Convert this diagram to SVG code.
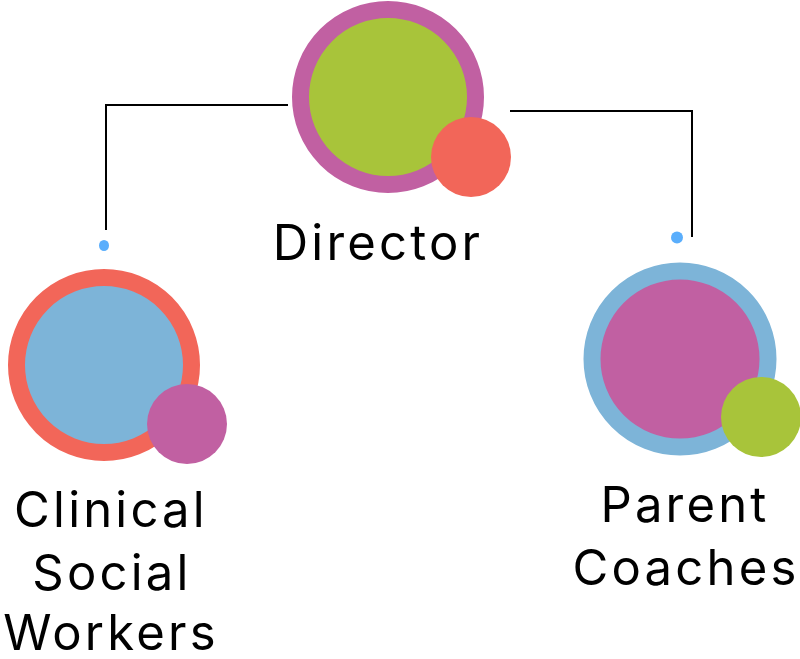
<svg xmlns="http://www.w3.org/2000/svg" width="800" height="659" viewBox="0 0 800 659">
<style>
.ring{stroke-width:17}
.lbl{font-family:Inter,"Liberation Sans",sans-serif;font-size:49px;fill:#000;text-anchor:middle;letter-spacing:3.2px}
.conn{fill:none;stroke:#000;stroke-width:2}
.dot{fill:#5aaefc}
</style>
<rect width="800" height="659" fill="#fff"/>
<g id="connectors">
<polyline class="conn" points="288,105 106,105 106,230"/>
<ellipse class="dot" cx="104" cy="245.5" rx="5" ry="5.5"/>
<polyline class="conn" points="510,111 692,111 692,237"/>
<circle class="dot" cx="677" cy="237.5" r="6"/>
</g>
<g id="director">
<circle class="ring" cx="388" cy="97" r="87.5" fill="#a8c43a" stroke="#c160a2"/>
<circle cx="471" cy="157" r="40" fill="#f26659"/>
<text class="lbl" x="378" y="260">Director</text>
</g>
<g id="clinical">
<circle class="ring" cx="104" cy="365" r="87.5" fill="#7db4d8" stroke="#f26659"/>
<circle cx="187" cy="424" r="40" fill="#c160a2"/>
<text class="lbl" x="111" y="527">Clinical</text>
<text class="lbl" x="112" y="590">Social</text>
<text class="lbl" x="111" y="650">Workers</text>
</g>
<g id="parent">
<circle class="ring" cx="680" cy="359" r="88" fill="#c160a2" stroke="#7db4d8"/>
<circle cx="761" cy="417" r="40" fill="#a8c43a"/>
<text class="lbl" x="685" y="522">Parent</text>
<text class="lbl" x="686" y="585">Coaches</text>
</g>
</svg>
